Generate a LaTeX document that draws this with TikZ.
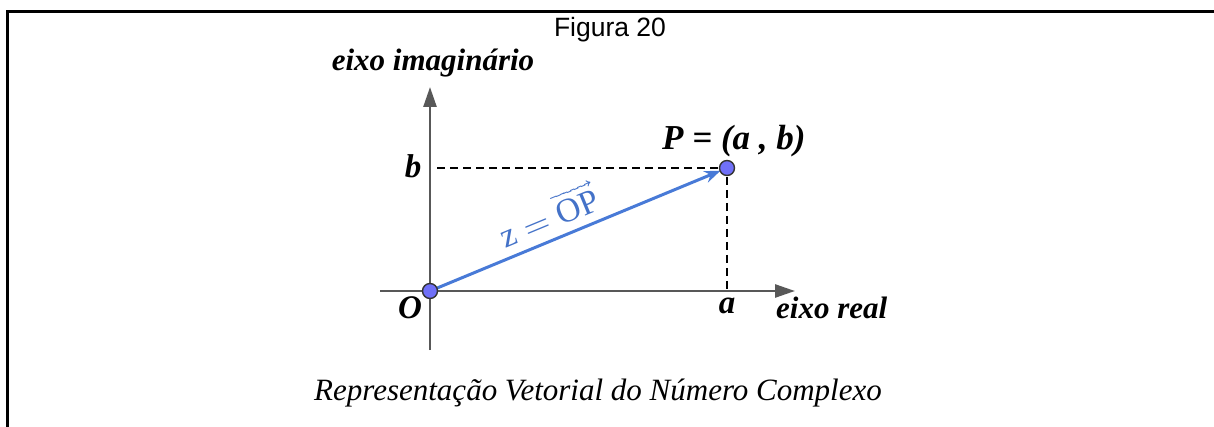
\documentclass[tikz,border=0pt]{standalone}
\usepackage{amsmath}
\usepackage{fontspec}
\usepackage{unicode-math}
\setmainfont{Liberation Serif}
\newfontfamily\arialfont{Liberation Sans}
\usepackage{xcolor}
\usepackage{tikz}
\usetikzlibrary{
	arrows.meta,
	calc,
	positioning
}
\definecolor{AxisGray}{RGB}{88,88,88}
\definecolor{VecBlue}{RGB}{72,122,215}
\definecolor{PointBlue}{RGB}{112,112,248}
\definecolor{TextBlue}{RGB}{68,114,200}

\tikzset{
	eixo/.style={line width=2.6pt, AxisGray, -{Triangle[length=20pt, width=13pt]}},
	tracejado/.style={line width=2.4pt, dash pattern=on 8pt off 5pt},
	ponto/.style={circle, draw=black!80, line width=1.4pt, fill=PointBlue, minimum size=15pt, inner sep=0pt},
	rotulo/.style={font=\fontsize{33}{38}\selectfont\bfseries\itshape, inner sep=0pt, anchor=base}
}

\begin{document}
\begin{tikzpicture}[x=1pt, y=-1pt]
		\useasboundingbox (0,0) rectangle (1214,427);
		
		% moldura
		\draw[line width=3pt] (7,430) -- (7,12) -- (1216,12);
		\node[font=\arialfont\fontsize{26.5}{30}\selectfont, anchor=base, inner sep=0pt] (titulo) at (610,37) {Figura 20};
		
		% eixos
		\coordinate (O) at (430,291);
		\coordinate (P) at (727,168);
		\coordinate (xini) at (380,291);
		\coordinate (xfim) at (795,291);
		\coordinate (yini) at (430,350);
		\coordinate (yfim) at (430,87);
		\draw[eixo] (xini) -- (xfim);
		\draw[eixo] (yini) -- (yfim);
		
		% projecoes de P
		\coordinate (Pb) at (437,168);
		\coordinate (Pa) at (727,291);
		\draw[tracejado] (Pb) -- (P) -- (Pa);
		
		% vetor z = OP
		\draw[line width=3pt, VecBlue, -{Stealth[length=16pt, width=12pt]}, shorten >=7pt] (O) -- (P)
			node[pos=0.43, sloped, above=5pt, TextBlue, font=\fontsize{34}{38}\selectfont] (zOP) {$\mathrm{z}=\overrightarrow{\mathrm{OP}}$};
		
		\node[ponto] (pO) at (O) {};
		\node[ponto] (pP) at (P) {};
		
		% rotulos
		\node[rotulo] (lblO) at (410,319) {O};
		\node[rotulo] (lblb) at (413,178) {b};
		\node[rotulo] (lbla) at (727,313) {a};
		\node[rotulo, anchor=base west, font=\fontsize{35}{40}\selectfont\bfseries\itshape] (lblP) at (662,150) {P = (a , b)};
		\node[rotulo, anchor=base west, font=\fontsize{31}{36}\selectfont\bfseries\itshape] (real) at (776,318) {eixo real};
		\node[rotulo, font=\fontsize{31}{36}\selectfont\bfseries\itshape] (imag) at (433,71) {eixo imaginário};
		
		\node[font=\fontsize{31}{36}\selectfont\itshape, anchor=base, inner sep=0pt] (legenda) at (598,400) {Representação Vetorial do Número Complexo};
	\end{tikzpicture}
\end{document}
